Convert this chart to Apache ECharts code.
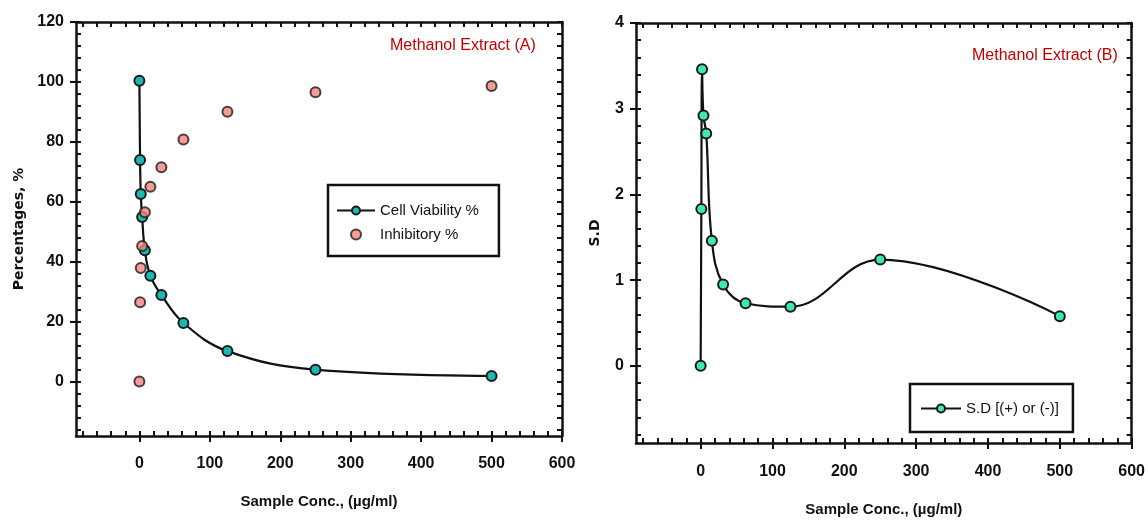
<!DOCTYPE html>
<html><head><meta charset="utf-8">
<script src="https://cdn.jsdelivr.net/npm/echarts@6/dist/echarts.min.js"></script>
<style>html,body{margin:0;padding:0;background:#fff}#c{width:1148px;height:522px}</style>
</head><body><div id="c"></div>
<script>
// ---- data ----
const conc = [0, 0.98, 1.95, 3.9, 7.8, 15.6, 31.25, 62.5, 125, 250, 500];
const cellViability = [100.4, 74.0, 62.7, 55.0, 43.9, 35.4, 29.0, 19.7, 10.3, 4.1, 2.0];
const inhibitory = [0.2, 26.6, 38.0, 45.3, 56.6, 65.1, 71.6, 80.8, 90.1, 96.6, 98.7];
const sdValues = [0, 1.83, 3.46, 2.92, 2.71, 1.46, 0.95, 0.73, 0.69, 1.24, 0.58];
const xTickLabels = [0, 100, 200, 300, 400, 500, 600];
const yTickLabelsA = [0, 20, 40, 60, 80, 100, 120];
const yTickLabelsB = [0, 1, 2, 3, 4];
const seriesNames = ['Cell Viability %', 'Inhibitory %', 'S.D [(+) or (-)]'];
const panelTitles = ['Methanol Extract (A)', 'Methanol Extract (B)'];
const xName = 'Sample Conc., (µg/ml)';
const yNames = ['Percentages, %', 'S.D'];

// minor tick positions
function steps(a, b, s) { const r = []; for (let v = a; v <= b + 1e-9; v += s) r.push(+v.toFixed(4)); return r; }
const xMinor = steps(-80, 600, 20);
const yMinorA = steps(-16, 120, 4);
const yMinorB = steps(-0.8, 4, 0.2);

const NARROW = "'Liberation Sans Narrow','Liberation Sans',sans-serif";
const WIDE = "'DejaVu Sans',sans-serif";
const AX = { onZero: false, lineStyle: { color: '#111', width: 2.5 } };
const NOAX = { show: false, onZero: false };
const TICK = { lineStyle: { color: '#111', width: 2 } };

function xAxesFor(g, nameGap, labelMargin) {
  return [
    { gridIndex: g, type: 'value', min: -90, max: 600, position: 'bottom',
      axisLine: AX, splitLine: { show: false },
      axisTick: Object.assign({ customValues: xTickLabels, inside: false, length: 6 }, TICK),
      axisLabel: { customValues: xTickLabels, fontFamily: NARROW, fontWeight: 'bold', fontSize: 16, color: '#111', margin: labelMargin },
      name: xName, nameLocation: 'middle', nameGap: nameGap,
      nameTextStyle: { fontFamily: NARROW, fontWeight: 'bold', fontSize: 15, color: '#111' } },
    { gridIndex: g, type: 'value', min: -90, max: 600, position: 'bottom',
      axisLine: NOAX, splitLine: { show: false }, axisLabel: { show: false },
      axisTick: Object.assign({ customValues: xMinor, inside: true, length: 5 }, TICK) },
    { gridIndex: g, type: 'value', min: -90, max: 600, position: 'top',
      axisLine: AX, splitLine: { show: false }, axisLabel: { show: false },
      axisTick: Object.assign({ customValues: xMinor, inside: true, length: 5 }, TICK) }
  ];
}
function yAxesFor(g, min, max, majors, minors, name, nameGap) {
  return [
    { gridIndex: g, type: 'value', min: min, max: max, position: 'left',
      axisLine: AX, splitLine: { show: false },
      axisTick: Object.assign({ customValues: majors, inside: false, length: 6 }, TICK),
      axisLabel: { customValues: majors, fontFamily: NARROW, fontWeight: 'bold', fontSize: 16, color: '#111', margin: 12 },
      name: name, nameLocation: 'middle', nameGap: nameGap,
      nameTextStyle: { fontFamily: WIDE, fontWeight: 'bold', fontSize: 14, color: '#111' } },
    { gridIndex: g, type: 'value', min: min, max: max, position: 'left',
      axisLine: NOAX, splitLine: { show: false }, axisLabel: { show: false },
      axisTick: Object.assign({ customValues: minors, inside: true, length: 5 }, TICK) },
    { gridIndex: g, type: 'value', min: min, max: max, position: 'right',
      axisLine: AX, splitLine: { show: false }, axisLabel: { show: false },
      axisTick: Object.assign({ customValues: minors, inside: true, length: 5 }, TICK) }
  ];
}
const pairs = (xs, ys) => xs.map((x, i) => [x, ys[i]]);
const border = { borderColor: '#1a1a1a', borderWidth: 2 };

const chart = echarts.init(document.getElementById('c'), null, { renderer: 'canvas' });
chart.setOption({
  animation: false,
  backgroundColor: '#fff',
  grid: [
    { left: 76, right: 586, top: 22, bottom: 86 },
    { left: 636, right: 12, top: 23, bottom: 78 }
  ],
  title: [
    { text: panelTitles[0], left: 390, top: 38, padding: 0,
      textStyle: { fontFamily: NARROW, fontSize: 16, fontWeight: 'normal', color: '#c00000' } },
    { text: panelTitles[1], left: 972, top: 48, padding: 0,
      textStyle: { fontFamily: NARROW, fontSize: 16, fontWeight: 'normal', color: '#c00000' } }
  ],
  legend: [
    { data: [seriesNames[0], seriesNames[1]], orient: 'vertical', left: 328, top: 185,
      padding: [18, 20, 14, 8], itemGap: 9, itemWidth: 38, itemHeight: 10,
      borderColor: '#111', borderWidth: 2.5, backgroundColor: '#fff',
      textStyle: { fontFamily: NARROW, fontSize: 15, color: '#111' } },
    { data: [seriesNames[2]], orient: 'vertical', left: 910, top: 384,
      padding: [17, 14, 16, 10], itemWidth: 40, itemHeight: 10,
      borderColor: '#111', borderWidth: 2.5, backgroundColor: '#fff',
      textStyle: { fontFamily: NARROW, fontSize: 15, color: '#111' } }
  ],
  xAxis: xAxesFor(0, 58, 20).concat(xAxesFor(1, 59, 21)),
  yAxis: yAxesFor(0, -18, 120, yTickLabelsA, yMinorA, yNames[0], 50)
    .concat(yAxesFor(1, -0.9, 4, yTickLabelsB, yMinorB, yNames[1], 34)),
  series: [
    { name: seriesNames[0], type: 'line', xAxisIndex: 0, yAxisIndex: 0, smooth: 0.4,
      data: pairs(conc, cellViability), symbol: 'circle', symbolSize: 10,
      lineStyle: { color: '#111', width: 2.2 },
      itemStyle: Object.assign({ color: '#19b8b0' }, border), z: 3 },
    { name: seriesNames[1], type: 'scatter', xAxisIndex: 0, yAxisIndex: 0,
      data: pairs(conc, inhibitory), symbol: 'circle', symbolSize: 10,
      itemStyle: Object.assign({ color: '#f4837c' }, border), z: 4 },
    { name: seriesNames[2], type: 'line', xAxisIndex: 3, yAxisIndex: 3, smooth: 0.4,
      data: pairs(conc, sdValues), symbol: 'circle', symbolSize: 10,
      lineStyle: { color: '#111', width: 2.2 },
      itemStyle: Object.assign({ color: '#3de8b4' }, border), z: 3 }
  ]
});
</script></body></html>
